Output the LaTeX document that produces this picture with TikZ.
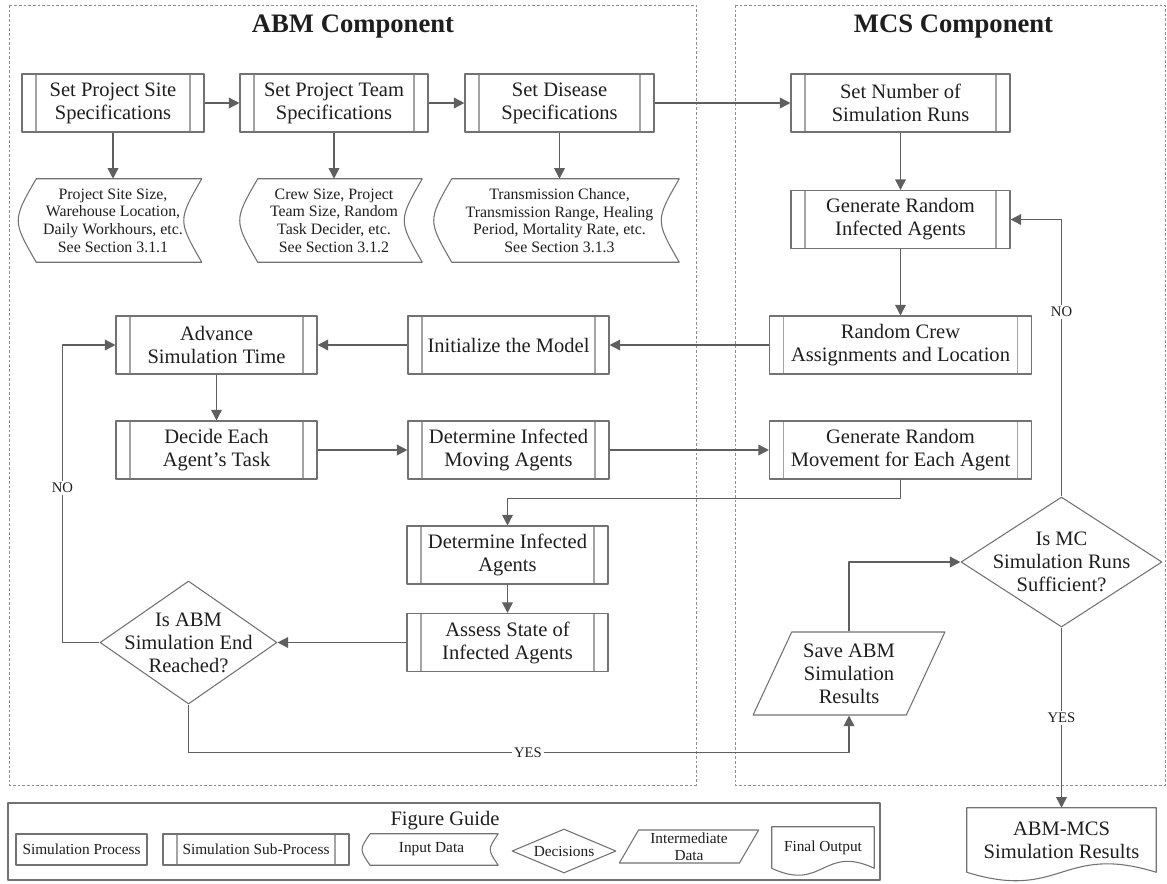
\documentclass[tikz,border=0pt]{standalone}
\usepackage{fontspec}
\setmainfont{Liberation Serif}
\usetikzlibrary{arrows.meta,shapes.geometric}

\definecolor{lineGray}{HTML}{5F5F5F}
\definecolor{boxGray}{HTML}{727272}
\definecolor{barGray}{HTML}{A4A4A4}
\definecolor{dashGray}{HTML}{8E8E8E}
\definecolor{inkGray}{HTML}{1E1E1E}

%% stored data outline (input data) drawn round a named node
\newcommand{\storedpath}[2]{%
  \draw[shapeline] ([xshift=#2]#1.north west) -- (#1.north east)
    .. controls ([xshift=-2*#2]#1.east) .. (#1.south east)
    -- ([xshift=#2]#1.south west)
    .. controls ([xshift=-#2]#1.west) .. cycle;}
%% document outline (final output) with the wavy lower edge
\newcommand{\docpath}[2]{%
  \draw[shapeline] (#1.south west) -- (#1.north west) -- (#1.north east)
    -- (#1.south east)
    .. controls ([yshift=#2]#1.south) and ([yshift=-#2]#1.south) .. cycle;}

\begin{document}
\begin{tikzpicture}[x=0.75pt,y=-0.75pt,>={Triangle[length=8pt,width=8pt]},line join=round,
  every node/.append style={text=inkGray},
  titletxt/.style={font=\fontsize{20}{24}\selectfont\bfseries},
  bigtxt/.style={font=\fontsize{15.4}{17.25}\selectfont},
  smalltxt/.style={font=\fontsize{11.9}{13.3}\selectfont},
  guidetxt/.style={font=\fontsize{11.5}{13}\selectfont},
  flagtxt/.style={font=\fontsize{11}{13}\selectfont,fill=white,inner sep=1.5pt},
  shapeline/.style={draw=boxGray,line width=0.8pt},
  subproc/.style={shapeline,align=center,minimum height=43.5pt,inner sep=2pt,
    path picture={\draw[barGray,line width=0.8pt]
      ([xshift=10.5pt]path picture bounding box.north west)
        -- ([xshift=10.5pt]path picture bounding box.south west)
      ([xshift=-10.5pt]path picture bounding box.north east)
        -- ([xshift=-10.5pt]path picture bounding box.south east);}},
  datanode/.style={align=center,inner sep=1pt},
  decision/.style={shapeline,diamond,inner sep=0pt},
  slanted/.style={shapeline,trapezium,trapezium left angle=63,
    trapezium right angle=117,trapezium stretches=true,align=center},
  flow/.style={->,draw=lineGray,line width=1.15pt},
  container/.style={draw=dashGray,dash pattern=on 2pt off 1.5pt,line width=0.6pt}]

\useasboundingbox (0,0) rectangle (1167,883);

%% ---------------- the two components ----------------
\draw[container] (9,5) rectangle (696,785);
\draw[container] (735,5) rectangle (1165,785);
\node[titletxt] (abmTitle) at (353,27) {ABM Component};
\node[titletxt] (mcsTitle) at (953.5,27) {MCS Component};

%% ---------------- ABM: specifications and their inputs ----------------
\node[subproc,bigtxt,minimum width=136.5pt] (siteSpec) at (113,103)
  {Set Project Site\\Specifications};
\node[subproc,bigtxt,minimum width=141pt] (teamSpec) at (334,103)
  {Set Project Team\\Specifications};
\node[subproc,bigtxt,minimum width=141.75pt] (diseaseSpec) at (559.5,103)
  {Set Disease\\Specifications};

\node[datanode,smalltxt,minimum width=132.75pt,minimum height=62.25pt] (siteData)
  at (113,220.5) {Project Site Size,\\Warehouse Location,\\Daily Workhours, etc.\\See Section 3.1.1};
\node[datanode,smalltxt,minimum width=132pt,minimum height=62.25pt] (teamData)
  at (334,220.5) {Crew Size, Project\\Team Size, Random\\Task Decider, etc.\\See Section 3.1.2};
\node[datanode,smalltxt,minimum width=179.25pt,minimum height=62.25pt] (diseaseData)
  at (559.5,220.5) {Transmission Chance,\\Transmission Range, Healing\\Period, Mortality Rate, etc.\\See Section 3.1.3};
\storedpath{siteData}{9pt}
\storedpath{teamData}{9pt}
\storedpath{diseaseData}{9pt}

%% ---------------- ABM: simulation loop ----------------
\node[subproc,bigtxt,minimum width=150.75pt] (advTime) at (216.5,345)
  {Advance\\Simulation Time};
\node[subproc,bigtxt,minimum width=150.75pt] (initModel) at (508.5,345)
  {Initialize the Model};
\node[subproc,bigtxt,minimum width=150.75pt] (decideTask) at (216.5,450)
  {Decide Each\\Agent's Task};
\node[subproc,bigtxt,minimum width=150.75pt] (detMoving) at (508.5,450)
  {Determine Infected\\Moving Agents};
\node[subproc,bigtxt,minimum width=150.75pt] (detInfected) at (507.5,555)
  {Determine Infected\\Agents};
\node[subproc,bigtxt,minimum width=150.75pt] (assessState) at (507.5,642.5)
  {Assess State of\\Infected Agents};
\node[decision,minimum width=132.75pt,minimum height=92.25pt,
  label={[bigtxt,align=center]center:{Is ABM\\Simulation End\\Reached?}}]
  (abmEnd) at (188.5,642.5) {};

%% ---------------- MCS column ----------------
\node[subproc,bigtxt,minimum width=164.25pt] (runsNum) at (900.5,103)
  {Set Number of\\Simulation Runs};
\node[subproc,bigtxt,minimum width=164.25pt] (genInfected) at (900.5,219.5)
  {Generate Random\\Infected Agents};
\node[subproc,bigtxt,minimum width=196.5pt] (crewAssign) at (900.5,345)
  {Random Crew\\Assignments and Location};
\node[subproc,bigtxt,minimum width=196.5pt] (genMove) at (900.5,450)
  {Generate Random\\Movement for Each Agent};
\node[decision,minimum width=150.75pt,minimum height=97.5pt,
  label={[bigtxt,align=center]center:{Is MC\\Simulation Runs\\Sufficient?}}]
  (mcEnd) at (1061.5,562) {};
\node[slanted,bigtxt,minimum width=144pt,minimum height=62.25pt,inner sep=1pt]
  (saveRes) at (849,673.5) {Save ABM\\Simulation\\Results};
\node[bigtxt,align=center,minimum width=141.75pt,minimum height=48pt]
  (finalOut) at (1061.5,840) {ABM-MCS\\Simulation Results};
\docpath{finalOut}{22pt}

%% ---------------- connectors ----------------
\draw[flow] (siteSpec) -- (teamSpec);
\draw[flow] (teamSpec) -- (diseaseSpec);
\draw[flow] (diseaseSpec) -- (runsNum);
\draw[flow] (siteSpec) -- (siteData);
\draw[flow] (teamSpec) -- (teamData);
\draw[flow] (diseaseSpec) -- (diseaseData);
\draw[flow] (runsNum) -- (genInfected);
\draw[flow] (genInfected) -- (crewAssign);
\draw[flow] (crewAssign) -- (initModel);
\draw[flow] (initModel) -- (advTime);
\draw[flow] (advTime) -- (decideTask);
\draw[flow] (decideTask) -- (detMoving);
\draw[flow] (detMoving) -- (genMove);
\draw[flow] (genMove.south) -- ++(0,19) -| (detInfected.north);
\draw[flow] (detInfected) -- (assessState);
\draw[flow] (assessState) -- (abmEnd);
\draw[flow] (abmEnd.west) -- ++(-37,0)
  |- node[flagtxt,pos=0.26] (abmNo) {NO} (advTime.west);
\draw[flow] (abmEnd.south) -- ++(0,48)
  -| node[flagtxt,pos=0.257] (abmYes) {YES} (saveRes.south);
\draw[flow] (saveRes.north) |- (mcEnd.west);
\draw[flow] (mcEnd.north) |- node[flagtxt,pos=0.333] (mcNo) {NO} (genInfected.east);
\draw[flow] (mcEnd) -- node[flagtxt] (mcYes) {YES} (finalOut);

%% ---------------- figure guide ----------------
\draw[draw=boxGray,line width=0.8pt] (8,803) rectangle (880,880);
\node[bigtxt] (guideTitle) at (445,821) {Figure Guide};
\node[shapeline,guidetxt,minimum width=98.25pt,minimum height=23.25pt] (legProc)
  at (81.5,849.5) {Simulation Process};
\node[subproc,guidetxt,minimum width=139.5pt,minimum height=23.25pt] (legSub)
  at (256,849.5) {Simulation Sub-Process};
\node[datanode,guidetxt,minimum width=99.75pt,minimum height=23.25pt] (legInput)
  at (431.5,849.5) {Input Data};
\storedpath{legInput}{4pt}
\node[decision,minimum width=78pt,minimum height=33pt,
  label={[guidetxt]center:Decisions}] (legDecide) at (564,851) {};
\node[slanted,guidetxt,minimum width=105pt,minimum height=24.75pt,inner sep=0.5pt]
  (legInter) at (689,846.5) {Intermediate\\Data};
\node[guidetxt,minimum width=76.5pt,minimum height=30.75pt] (legOut)
  at (823,847.5) {Final Output};
\docpath{legOut}{18pt}

\end{tikzpicture}
\end{document}
